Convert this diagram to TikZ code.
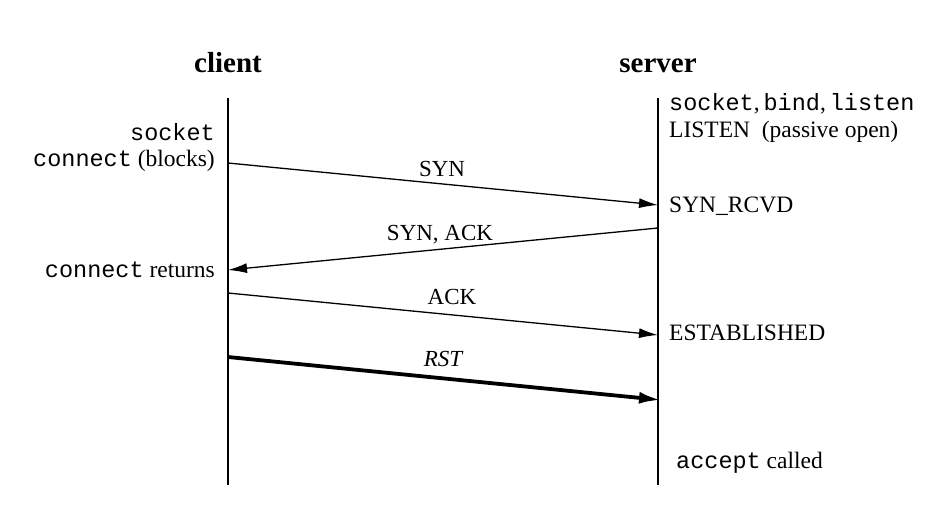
\documentclass[tikz,border=0pt]{standalone}
\usepackage{fontspec}
\setmainfont{Liberation Serif}
\setmonofont{Liberation Mono}
\usetikzlibrary{arrows.meta}
\begin{document}
\begin{tikzpicture}[x=1pt,y=-1pt,
  lifeline/.style={line width=1.5pt},
  msg/.style={line width=1.3pt,-{Latex[length=19,width=10]}},
  rstmsg/.style={line width=3.8pt,-{Latex[length=22,width=12]}},
  head/.style={font=\fontsize{29}{32}\selectfont\bfseries, inner sep=0pt},
  lbl/.style={font=\fontsize{23.5}{26}\selectfont, inner sep=0pt},
  mlbl/.style={font=\fontsize{23}{26}\selectfont, inner sep=0pt}]
\useasboundingbox (0,0) rectangle (952,525);
\node[head,anchor=base] (client) at (228,72) {client};
\node[head,anchor=base] (server) at (658,72) {server};
\coordinate (ctop) at (228,98);
\coordinate (cbot) at (228,485);
\coordinate (stop) at (658,98);
\coordinate (sbot) at (658,485);
\draw[lifeline] (ctop) -- (cbot);
\draw[lifeline] (stop) -- (sbot);
% client side texts
\node[lbl,anchor=east] (csock) at (215,132) {\texttt{socket}};
\node[lbl,anchor=east] (cconn) at (215,161) {\texttt{connect} (blocks)};
\node[lbl,anchor=east] (cret) at (215,270) {\texttt{connect} returns};
% server side texts
\node[lbl,anchor=west] (ssock) at (669,104) {\texttt{socket},\,\texttt{bind},\,\texttt{listen}};
\node[lbl,anchor=west] (slisten) at (669,132) {LISTEN\ \ (passive open)};
\node[lbl,anchor=west] (srcvd) at (669,206) {SYN\_RCVD};
\node[lbl,anchor=west] (sest) at (669,333) {ESTABLISHED};
\node[lbl,anchor=west] (sacc) at (676,463) {\texttt{accept} called};
% message endpoints
\coordinate (a1) at (228,163); \coordinate (b1) at (658,205);
\coordinate (a2) at (658,228); \coordinate (b2) at (228,270);
\coordinate (a3) at (228,293); \coordinate (b3) at (658,335);
\coordinate (a4) at (228,357); \coordinate (b4) at (661,400);
\draw[msg] (a1) -- (b1);
\draw[msg] (a2) -- (b2);
\draw[msg] (a3) -- (b3);
\draw[rstmsg] (a4) -- (b4);
\node[mlbl] (lsyn) at (442,169) {SYN};
\node[mlbl] (lsynack) at (440,235) {SYN, ACK};
\node[mlbl] (lack) at (452,297) {ACK};
\node[mlbl] (lrst) at (443,359) {\itshape RST};
\end{tikzpicture}
\end{document}
